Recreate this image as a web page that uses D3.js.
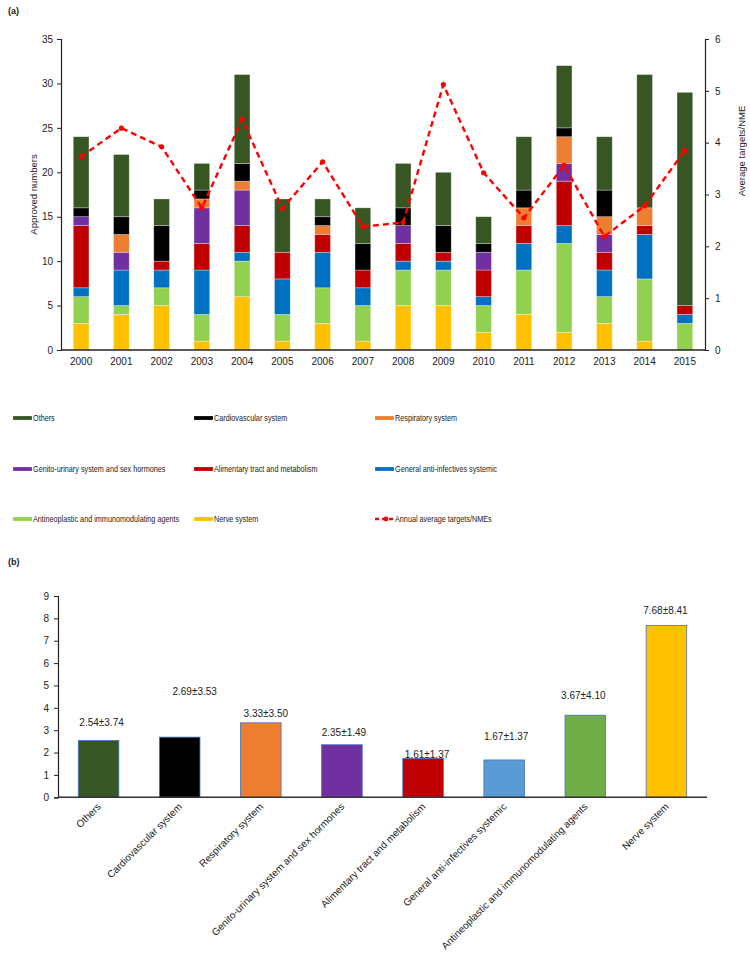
<!DOCTYPE html>
<html><head><meta charset="utf-8">
<script src="https://cdn.jsdelivr.net/npm/d3@7"></script>
<style>
body{margin:0;background:#fff;}
text{font-family:Arial,"Liberation Sans",sans-serif;fill:#222;}
</style></head>
<body>
<svg id="c" width="750" height="956"></svg>
<script>
// ---- Data (a) ----
const years = ["2000","2001","2002","2003","2004","2005","2006","2007","2008","2009","2010","2011","2012","2013","2014","2015"];
const nerve    = [3,4,5,1,6,1,3,1,5,5,2,4,2,3,1,0];
const antineo  = [3,1,2,3,4,3,4,4,4,4,3,5,10,3,7,3];
const antiInf  = [1,4,2,5,1,4,4,2,1,1,1,3,2,3,5,1];
const aliment  = [7,0,1,3,3,3,2,2,2,1,3,2,5,2,1,1];
const genito   = [1,2,0,4,4,0,0,0,2,0,2,0,2,2,0,0];
const respir   = [0,2,0,1,1,0,1,0,0,0,0,2,3,2,2,0];
const cardio   = [1,2,4,1,2,0,1,3,2,3,1,2,1,3,0,0];
const others   = [8,7,3,3,10,6,2,4,5,6,3,6,7,6,15,24];
const avgTargets = [3.73,4.28,3.92,2.74,4.45,2.73,3.63,2.38,2.46,5.12,3.42,2.55,3.56,2.19,2.78,3.85];
const leftTicks = [0,5,10,15,20,25,30,35];
const rightTicks = [0,1,2,3,4,5,6];

// ---- Data (b) ----
const catsB = ["Others","Cardiovascular system","Respiratory system","Genito-urinary system and sex hormones","Alimentary tract and metabolism","General anti-infectives systemic","Antineoplastic and immunomodulating agents","Nerve system"];
const meansB = [2.54,2.69,3.33,2.35,1.74,1.67,3.67,7.68];
const labelsB = ["2.54±3.74","2.69±3.53","3.33±3.50","2.35±1.49","1.61±1.37","1.67±1.37","3.67±4.10","7.68±8.41"];
const ticksB = [0,1,2,3,4,5,6,7,8,9];

// ---- Series definitions (stack order bottom -> top) ----
const seriesA = [
  {name:"Nerve system", values:nerve, color:"#FFC000"},
  {name:"Antineoplastic and immunomodulating agents", values:antineo, color:"#92D050"},
  {name:"General anti-infectives systemic", values:antiInf, color:"#0070C0"},
  {name:"Alimentary tract and metabolism", values:aliment, color:"#C00000"},
  {name:"Genito-urinary system and sex hormones", values:genito, color:"#7030A0"},
  {name:"Respiratory system", values:respir, color:"#ED7D31"},
  {name:"Cardiovascular system", values:cardio, color:"#000000"},
  {name:"Others", values:others, color:"#375623"}
];
const colorsB = ["#375623","#000000","#ED7D31","#7030A0","#C00000","#5B9BD5","#70AD47","#FFC000"];

const svg = d3.select("#c");

// ================= Chart (a) =================
const A = {left:61, right:705, top:39, bottom:350};
const x = d3.scaleBand().domain(years).range([A.left, A.right]).paddingInner(0.61).paddingOuter(0.305);
const yL = d3.scaleLinear().domain([0,35]).range([A.bottom, A.top]);
const yR = d3.scaleLinear().domain([0,6]).range([A.bottom, A.top]);

svg.append("text").attr("x",8).attr("y",14).style("font-size","9px").style("font-weight","bold").text("(a)");

const table = years.map((yr,i)=>{const o={year:yr}; seriesA.forEach(s=>o[s.name]=s.values[i]); return o;});
const stack = d3.stack().keys(seriesA.map(s=>s.name))(table);
const gA = svg.append("g");
gA.selectAll("g.layer").data(stack).join("g").attr("class","layer")
  .attr("fill",(d,i)=>seriesA[i].color)
  .selectAll("rect").data(d=>d.filter(v=>v[1]-v[0]>0)).join("rect")
  .attr("x",d=>x(d.data.year)).attr("width",x.bandwidth())
  .attr("y",d=>yL(d[1])).attr("height",d=>yL(d[0])-yL(d[1]))
  .attr("stroke","rgba(255,255,255,0.45)").attr("stroke-width",0.7);

// axes
const axL = d3.axisLeft(yL).tickValues(leftTicks).tickSize(4).tickPadding(4);
const gL = svg.append("g").attr("transform",`translate(${A.left},0)`).call(axL);
const axR = d3.axisRight(yR).tickValues(rightTicks).tickFormat(d3.format("d")).tickSize(4).tickPadding(6);
const gR = svg.append("g").attr("transform",`translate(${A.right},0)`).call(axR);
const axB = d3.axisBottom(x).tickSize(0).tickPadding(8);
const gB = svg.append("g").attr("transform",`translate(0,${A.bottom})`).call(axB);
[gL,gR,gB].forEach(g=>{
  g.selectAll("path.domain").attr("stroke","#222").attr("stroke-width",1.2);
  g.selectAll("line").attr("stroke","#222");
  g.selectAll("text").style("font-size","10px").style("font-family","Arial,'Liberation Sans',sans-serif").attr("fill","#222");
});
gB.select("path.domain").attr("d",`M${A.left},0H${A.right}`).attr("stroke-width",1.5);

svg.append("text").attr("transform",`translate(37,${(A.top+A.bottom)/2}) rotate(-90)`)
  .attr("text-anchor","middle").style("font-size","9.5px").text("Approved  numbers");
svg.append("text").attr("transform",`translate(745,151) rotate(-90)`)
  .attr("text-anchor","middle").style("font-size","9.5px").text("Average  targets/NME");

// line
const line = d3.line().x((d,i)=>x(years[i])+x.bandwidth()/2).y(d=>yR(d));
svg.append("path").datum(avgTargets).attr("d",line).attr("fill","none")
  .attr("stroke","#FF0000").attr("stroke-width",2.4).attr("stroke-dasharray","6,4");
svg.append("g").selectAll("circle").data(avgTargets).join("circle")
  .attr("cx",(d,i)=>x(years[i])+x.bandwidth()/2).attr("cy",d=>yR(d)).attr("r",2.6).attr("fill","#FF0000");

// legend
const legendItems = [
  {name:"Others", color:"#375623"},
  {name:"Cardiovascular system", color:"#000000"},
  {name:"Respiratory system", color:"#ED7D31"},
  {name:"Genito-urinary system and sex hormones", color:"#7030A0"},
  {name:"Alimentary tract and metabolism", color:"#C00000"},
  {name:"General anti-infectives systemic", color:"#0070C0"},
  {name:"Antineoplastic and immunomodulating agents", color:"#92D050"},
  {name:"Nerve system", color:"#FFC000"},
  {name:"Annual average targets/NMEs", color:"#FF0000", line:true}
];
const legCols = [13,194,375], legRows = [418,469,519];
const lg = svg.append("g");
legendItems.forEach((it,i)=>{
  const cx = legCols[i%3], cy = legRows[Math.floor(i/3)];
  if(it.line){
    lg.append("line").attr("x1",cx).attr("x2",cx+19).attr("y1",cy).attr("y2",cy)
      .attr("stroke",it.color).attr("stroke-width",2.4).attr("stroke-dasharray","4,3");
    lg.append("circle").attr("cx",cx+11).attr("cy",cy).attr("r",2.4).attr("fill",it.color);
  } else {
    lg.append("rect").attr("x",cx).attr("y",cy-2).attr("width",19).attr("height",4)
      .attr("fill",it.color).attr("stroke","rgba(255,255,255,0.4)").attr("stroke-width",0.5);
  }
  lg.append("text").attr("transform",`translate(${cx+20},${cy+3.4}) scale(0.74,1)`)
    .style("font-size","9.8px").text(it.name);
});

// ================= Chart (b) =================
svg.append("text").attr("x",8).attr("y",565).style("font-size","9px").style("font-weight","bold").text("(b)");
const B = {left:58, right:707, top:596, bottom:797.3};
const xb = d3.scaleBand().domain(catsB).range([B.left,B.right]).paddingInner(0.5).paddingOuter(0.25);
const yb = d3.scaleLinear().domain([0,9]).range([B.bottom,B.top]);

svg.append("g").selectAll("rect").data(meansB).join("rect")
  .attr("x",(d,i)=>xb(catsB[i])).attr("width",xb.bandwidth())
  .attr("y",d=>yb(d)).attr("height",d=>B.bottom-yb(d))
  .attr("fill",(d,i)=>colorsB[i]).attr("stroke","#4472C4").attr("stroke-width",0.8);

// label layout nudges (px) matching the reference's manual label placement
const labelLift = [14,42,6,9,0.5,19.5,16.5,12];
const labelShift = [3,15,5,2,4,2,-2,-1];
svg.append("g").selectAll("text").data(labelsB).join("text")
  .attr("x",(d,i)=>xb(catsB[i])+xb.bandwidth()/2+labelShift[i])
  .attr("y",(d,i)=>yb(meansB[i])-labelLift[i])
  .attr("text-anchor","middle").style("font-size","10px").text(d=>d);

const gbl = svg.append("g").attr("transform",`translate(${B.left},0)`)
  .call(d3.axisLeft(yb).tickValues(ticksB).tickSize(4).tickPadding(5));
const gbb = svg.append("g").attr("transform",`translate(0,${B.bottom})`)
  .call(d3.axisBottom(xb).tickSize(0).tickPadding(6));
[gbl,gbb].forEach(g=>{
  g.selectAll("path.domain").attr("stroke","#222").attr("stroke-width",1.2);
  g.selectAll("line").attr("stroke","#222");
  g.selectAll("text").style("font-size","10px").style("font-family","Arial,'Liberation Sans',sans-serif").attr("fill","#222");
});
gbb.select("path.domain").attr("d",`M${B.left},0H${B.right}`).attr("stroke-width",1.6).attr("stroke","#333");
gbb.selectAll(".tick text").attr("text-anchor","end").attr("dy",0).attr("y",0)
  .attr("transform","translate(3,10) rotate(-45)");
</script>
</body></html>
